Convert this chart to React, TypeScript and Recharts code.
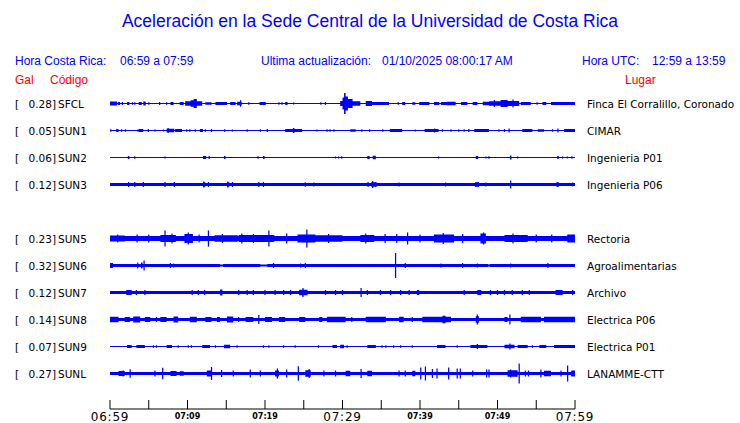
import { ComposedChart, Area, XAxis, YAxis } from 'recharts';

// stations, top to bottom (SUN4 row is empty)
const STATIONS = ['SFCL', 'SUN1', 'SUN2', 'SUN3', 'SUN5', 'SUN6', 'SUN7', 'SUN8', 'SUN9', 'SUNL'];
const PEAK_GAL = ['0.28', '0.05', '0.06', '0.12', '0.23', '0.32', '0.12', '0.14', '0.07', '0.27'];
const PLACES = [
  'Finca El Corralillo, Coronado',
  'CIMAR',
  'Ingenieria P01',
  'Ingenieria P06',
  'Rectoria',
  'Agroalimentarias',
  'Archivo',
  'Electrica P06',
  'Electrica P01',
  'LANAMME-CTT',
];

// quiet trace half-thickness per station
const BASE = [0.6, 0.6, 0.6, 1.5, 2.4, 1.5, 1.6, 1.6, 0.6, 1.6];

// [from minute, to minute, half amplitude]
const SFCL_BLOCKS = [
  [0, 0.9, 2], [1.0, 1.3, 1.5], [2.2, 2.5, 1.5], [3.7, 4.1, 1.5], [4.3, 4.6, 2], [7.8, 8.2, 1.5],
  [9.0, 9.5, 1.5], [9.7, 10.4, 2.3], [10.4, 10.8, 3.2], [10.8, 11.2, 4.5], [11.2, 11.9, 2.3],
  [12.3, 13.1, 1.2], [13.6, 15.1, 1.4], [15.5, 16.2, 1.4], [16.4, 17.0, 1.8], [19.3, 20.1, 1.4],
  [22.6, 22.9, 1.5], [29.7, 30.0, 2.5], [30.0, 30.2, 6], [30.2, 30.4, 10.5], [30.4, 30.7, 7],
  [30.7, 31.3, 4.5], [31.3, 32.3, 2.3], [33.0, 33.8, 2.5], [33.8, 36.0, 1.4], [37.7, 38.1, 1.4],
  [39.0, 39.4, 1.2], [39.9, 41.2, 1.4], [41.8, 42.5, 1.4], [42.7, 43.5, 1.4], [43.5, 44.6, 1.8],
  [45.3, 46.1, 1.4], [46.8, 47.4, 1.4], [48.1, 48.9, 1.8], [48.9, 50.4, 2.2], [50.4, 51.3, 3.6],
  [51.3, 52.8, 2.5], [53.0, 54.3, 1.4], [55.8, 56.3, 1.4], [56.9, 60, 1.6],
];
const SUN1_BLOCKS = [
  [0.8, 1.1, 1.5], [3.7, 4.3, 1.5], [7.3, 8.3, 1.8], [8.4, 9.3, 1.5], [11.6, 12.0, 1.5], [22.6, 24.8, 1.5],
  [23.6, 23.8, 2.5], [31.0, 31.7, 1.2], [36.1, 37.7, 1.5], [40.6, 42.4, 1.5], [47.0, 48.9, 1.5],
  [53.2, 54.5, 1.5], [55.2, 56.0, 1.2], [58.6, 60, 1.5],
];
const SUN2_BLOCKS = [
  [2.3, 2.5, 1.5], [12.0, 12.4, 1.5], [14.7, 14.9, 1.5], [19.75, 19.95, 1.5], [33.2, 33.5, 1.5],
  [33.9, 34.3, 1.8], [47.2, 47.5, 1.5], [51.6, 51.8, 2], [57.7, 57.9, 1.5],
];
const SUN3_BLOCKS = [[12.0, 12.3, 2.2], [15.1, 15.4, 2.2], [33.7, 34.4, 2.2], [47.1, 47.6, 2.2], [57.6, 57.9, 2.2]];
const SUN5_BLOCKS = [
  [0, 1.9, 2.9], [6.5, 8.5, 3.5], [9.6, 10.7, 4.5], [13.5, 16.5, 3.2], [16.6, 21.2, 3.4], [24.2, 26.5, 4],
  [26.5, 30, 3.2], [32.3, 34.1, 3.6], [41.8, 44.4, 4], [47.8, 48.5, 5], [50.9, 53.9, 3.6], [59, 60, 4],
];
const SUN6_BLOCKS = [[0, 0.4, 2.5], [3.5, 3.65, 3], [4.0, 4.2, 3], [14.2, 14.6, 1], [19.4, 20.3, 1], [48.8, 49.0, 1]];
const SUN7_BLOCKS = [[2.1, 2.8, 2.5], [14.2, 14.5, 3], [24.4, 25.5, 2.8], [39.6, 39.9, 2.5], [47.4, 47.9, 2.5], [57.5, 58.4, 2.4]];
const SUN8_BLOCKS = [
  [0, 1.1, 2.8], [1.9, 2.6, 2.4], [3.0, 3.9, 3], [4.5, 5.2, 2.4], [6.5, 7.3, 2.5], [8.2, 8.8, 3],
  [10.3, 11.2, 2.8], [12.3, 13.1, 2.4], [13.8, 14.2, 2.4], [15.1, 15.9, 3], [17.5, 18.5, 2.4],
  [20, 20.9, 2.4], [21.8, 22.6, 2.4], [24.4, 25.2, 2.4], [27, 27.4, 2.4], [28, 30.4, 2.7], [33, 35.6, 2.7],
  [37.3, 37.9, 2.8], [40.3, 44, 2.7], [42.9, 43.3, 3.8], [47.2, 47.6, 3.3], [50.9, 51.3, 2.4], [53, 55.6, 2.7],
  [56, 60, 2.7],
];
const SUN9_BLOCKS = [
  [2.2, 2.8, 1.5], [3.4, 4.5, 1.5], [7.3, 8.0, 1.5], [11.9, 12.9, 1.5], [14.7, 15.5, 1.7], [28.7, 29.3, 1.5],
  [29.7, 30.2, 1.7], [33.2, 34.3, 1.5], [42.2, 43.3, 1.5], [46.5, 48.7, 1.5], [50.9, 52.2, 1.7],
  [52.6, 53.9, 1.5], [55.4, 56.3, 1.5], [57.3, 60, 1.5],
];
const SUNL_BLOCKS = [
  [1.1, 1.9, 2.5], [7.8, 8.6, 2.5], [9.0, 9.5, 2.2], [12.5, 13.1, 3], [21.3, 21.8, 3], [25.2, 25.9, 3.3],
  [30.4, 31.0, 2.8], [33.2, 33.8, 2.8], [39.0, 39.4, 2.8], [51.3, 52.6, 3.2], [56.0, 56.9, 2.8], [59.5, 60, 3],
];

// [minute, half amplitude] for narrow spikes
const SFCL_SPIKES = [
  [1.6, 1.5], [2.9, 1.2], [3.2, 1.2], [5.0, 1.2], [6.4, 1.5], [7.3, 1.2], [16.85, 3.3], [17.9, 1.2],
  [21.8, 1.2], [22.2, 1.2], [23.7, 1], [27.2, 1.2], [27.8, 1.5], [37.2, 1.2], [49.6, 3.5], [52.0, 4],
  [55.1, 1.2],
];
const SUN1_SPIKES = [
  [0.1, 1.2], [1.5, 1.2], [2.0, 1.2], [3.6, 1], [4.95, 1.5], [5.8, 1], [6.9, 1], [7.5, 2.5], [9.9, 1.2],
  [10.3, 1.2], [11.0, 1.2], [12.3, 1.2], [13.1, 1.5], [14.8, 1.2], [15.8, 1], [17.7, 1.2], [19.4, 1.2],
  [20.3, 1.5], [26.7, 1], [28.0, 1.2], [28.4, 1.2], [28.9, 1.2], [32.5, 1.2], [33.5, 1.2], [35.2, 1.2],
  [39.4, 1], [41.9, 2], [42.9, 1.2], [44.0, 1.2], [45.0, 1.2], [45.7, 1.2], [46.3, 1.5], [50.2, 1.2],
  [50.9, 1.5], [51.5, 2], [57.1, 1.2], [57.8, 2],
];
const SUN2_SPIKES = [
  [3.2, 1.2], [7.1, 1], [12.8, 1.5], [19.1, 1.2], [29.1, 1], [29.5, 1], [29.9, 1.2], [42.4, 1], [48.5, 1],
  [48.9, 1.2], [52.6, 1], [58.4, 1], [59.0, 1], [59.6, 1.2],
];
const SUN3_SPIKES = [
  [2.4, 2.5], [3.2, 2.5], [4.3, 2.5], [7.1, 2.5], [8.3, 2.5], [12.1, 3], [12.7, 2.5], [15.2, 3], [15.8, 2.5],
  [19.2, 2.5], [19.8, 2.5], [25.2, 2.2], [26.3, 2], [33.3, 2.5], [33.9, 3.5], [34.3, 2.5], [37.3, 2],
  [43.3, 2], [47.2, 2.5], [47.5, 2.5], [48.5, 2], [51.7, 4], [57.8, 2.5], [59.7, 2],
];
const SUN5_SPIKES = [
  [1.0, 4], [3.5, 4], [5.0, 4], [7.1, 8], [8.0, 5], [10.1, 6], [11.5, 4], [12.7, 8], [14.5, 4.5], [17.0, 5],
  [18.5, 4.5], [20.5, 8], [22.8, 5], [25.4, 9], [28.2, 4.5], [33.0, 5], [35.5, 4.5], [37.0, 4.5], [38.4, 6],
  [40.0, 4], [43.0, 5.5], [45.5, 4.5], [48.2, 6], [52.0, 5], [55.0, 4], [57.0, 4],
];
const SUN6_SPIKES = [
  [4.4, 5], [7.8, 2.5], [8.2, 2], [21.1, 2.5], [24.6, 2], [25.2, 2.5], [36.85, 12.5], [38.1, 2.5],
  [42.7, 2], [45.5, 2.5], [47.4, 2], [51.7, 2], [56.5, 2.5],
];
const SUN7_SPIKES = [
  [3.4, 2.5], [4.5, 2.5], [10.6, 2.5], [11.4, 2.5], [12.2, 2.5], [16.6, 2.5], [17.7, 2.5], [18.5, 2.5],
  [20, 2.5], [21.3, 2.5], [22.4, 2.5], [23.3, 2.5], [24.9, 4.5], [27.8, 2.5], [29.1, 2.5], [30, 2.5],
  [32.4, 4.5], [33.2, 2.5], [34.9, 2.5], [36.2, 2.5], [37.5, 2.5], [38.6, 2.5], [45.7, 2.5], [49.1, 2.5],
  [50, 2.5], [50.9, 2.5], [51.9, 2.5], [53.2, 2.5], [54.1, 2.5], [59.7, 2.5],
];
const SUN8_SPIKES = [[6.0, 2.5], [16.6, 2.5], [19.2, 4.5], [31.2, 2.5], [39.0, 2.5], [47.4, 5], [51.6, 5]];
const SUN9_SPIKES = [
  [5.6, 1.2], [6.0, 1.2], [8.8, 1.2], [10.1, 1.2], [10.5, 1.2], [13.6, 1.2], [16.4, 1.2], [19.8, 1.2],
  [20.5, 1.2], [22.4, 1.2], [23.9, 1.2], [26.9, 1.2], [30.6, 1.2], [35.1, 1.2], [35.6, 1.2], [36.6, 1.2],
  [37.5, 1.2], [39, 1.2], [44.8, 1.2], [47.4, 2.5], [51.6, 3], [54.5, 1.2],
];
const SUNL_SPIKES = [
  [1.7, 3], [2.6, 4.3], [5.8, 3], [6.8, 5.7], [13.1, 6.5], [14.4, 3.5], [15.9, 3], [18.1, 4], [19.4, 3],
  [21.6, 5], [22.8, 4], [24.3, 7.3], [25.7, 4.5], [27.6, 3], [29.1, 3], [32.4, 4.5], [37.3, 3], [38.1, 3],
  [40.1, 6], [40.7, 7], [41.6, 4.5], [42.2, 5], [43.7, 6], [44.8, 5], [45.2, 5], [46.8, 3], [48.6, 4],
  [48.9, 4], [51.7, 4], [52.8, 10], [53.6, 3], [54.0, 3], [55.6, 4], [58.2, 3], [59.05, 8],
];

const BLOCKS = [SFCL_BLOCKS, SUN1_BLOCKS, SUN2_BLOCKS, SUN3_BLOCKS, SUN5_BLOCKS, SUN6_BLOCKS, SUN7_BLOCKS, SUN8_BLOCKS, SUN9_BLOCKS, SUNL_BLOCKS];
const SPIKES = [SFCL_SPIKES, SUN1_SPIKES, SUN2_SPIKES, SUN3_SPIKES, SUN5_SPIKES, SUN6_SPIKES, SUN7_SPIKES, SUN8_SPIKES, SUN9_SPIKES, SUNL_SPIKES];

const TICK_MINUTES = [0, 5, 10, 15, 20, 25, 30, 35, 40, 45, 50, 55, 60];
const TICK_LABELS = ['06:59', '', '07:09', '', '07:19', '', '07:29', '', '07:39', '', '07:49', '', '07:59'];
const BIG_LABELS = ['06:59', '07:29', '07:59'];

const W = 740;
const H = 423;
const PLOT_TOP = 90;
const PLOT_BOTTOM = 409;
const FIRST_ROW = 103.5;
const ROW_GAP = 27;
const SPIKE_HALF = 0.08;
const BLUE = '#0000ff';

const slotOf = (i: number) => (i >= 4 ? i + 1 : i);
const rowY = (i: number) => FIRST_ROW + ROW_GAP * slotOf(i);

function traceData(i: number) {
  const center = PLOT_BOTTOM - rowY(i);
  const feats = [
    ...BLOCKS[i],
    ...SPIKES[i].map(([t, a]) => [t - SPIKE_HALF, t + SPIKE_HALF, a]),
  ].map(([s, e, a]) => [Math.max(0, s), Math.min(60, e), a]);
  const xs = Array.from(new Set([0, 60, ...feats.flatMap((f) => [f[0], f[1]])])).sort((a, b) => a - b);
  const pts: { t: number; v: number[] }[] = [];
  for (let k = 0; k < xs.length - 1; k++) {
    const mid = (xs[k] + xs[k + 1]) / 2;
    const cover = feats.filter((f) => f[0] <= mid && f[1] >= mid);
    const a = cover.length ? Math.max(...cover.map((f) => f[2])) : BASE[i];
    pts.push({ t: xs[k], v: [center - a, center + a] }, { t: xs[k + 1], v: [center - a, center + a] });
  }
  return pts;
}

const TimeTick = (props: any) => {
  const { x, y, payload } = props;
  const label = TICK_LABELS[TICK_MINUTES.indexOf(payload.value)];
  const big = BIG_LABELS.includes(label);
  return (
    <g>
      <line x1={x} y1={y - 9} x2={x} y2={y} stroke="#000" strokeWidth={1} />
      {label && (
        <text
          x={x}
          y={big ? y + 12 : y + 10}
          textAnchor="middle"
          fontFamily="DejaVu Sans"
          fontSize={big ? 12 : 8}
          fontWeight={big ? 'normal' : 'bold'}
          letterSpacing={big ? 0.8 : 0}
          fill="#000"
        >
          {label}
        </text>
      )}
    </g>
  );
};

function Txt({ x, y, color, size, family, children, align }: any) {
  const lh = 16;
  const style: any = {
    position: 'absolute',
    top: y - lh / 2,
    lineHeight: `${lh}px`,
    fontSize: size,
    fontFamily: family,
    color,
    whiteSpace: 'pre',
  };
  if (align === 'right') style.right = W - x;
  else style.left = x;
  return <div style={style}>{children}</div>;
}

export default function App() {
  const sans = '"Liberation Sans", Arial, sans-serif';
  const dv = '"DejaVu Sans", sans-serif';
  return (
    <div style={{ position: 'absolute', left: 0, top: 0, width: W, height: H, background: '#fff', overflow: 'hidden' }}>
      <ComposedChart width={W} height={H} margin={{ top: PLOT_TOP, right: W - 575, bottom: 0, left: 110 }}>
        <XAxis
          type="number"
          dataKey="t"
          domain={[0, 60]}
          ticks={TICK_MINUTES}
          interval={0}
          height={H - PLOT_BOTTOM}
          tickSize={0}
          tickMargin={0}
          tickLine={false}
          axisLine={{ stroke: '#000', strokeWidth: 1 }}
          tick={<TimeTick />}
          allowDataOverflow
        />
        <YAxis hide type="number" domain={[0, PLOT_BOTTOM - PLOT_TOP]} allowDataOverflow />
        {STATIONS.map((s, i) => (
          <Area
            key={s}
            data={traceData(i)}
            dataKey="v"
            type="linear"
            stroke="none"
            fill={BLUE}
            fillOpacity={1}
            dot={false}
            activeDot={false}
            isAnimationActive={false}
          />
        ))}
      </ComposedChart>

      <div
        style={{
          position: 'absolute',
          left: 0,
          top: 12,
          width: W,
          textAlign: 'center',
          lineHeight: '18px',
          fontSize: 17.5,
          fontFamily: sans,
          color: BLUE,
        }}
      >
        Aceleración en la Sede Central de la Universidad de Costa Rica
      </div>

      <Txt x={15} y={61} color={BLUE} size={12} family={sans}>Hora Costa Rica:</Txt>
      <Txt x={120} y={61} color={BLUE} size={12} family={sans}>06:59 a 07:59</Txt>
      <Txt x={261} y={61} color={BLUE} size={12} family={sans}>Ultima actualización:</Txt>
      <Txt x={382} y={61} color={BLUE} size={12} family={sans}>01/10/2025 08:00:17 AM</Txt>
      <Txt x={582} y={61} color={BLUE} size={12} family={sans}>Hora UTC:</Txt>
      <Txt x={652} y={61} color={BLUE} size={12} family={sans}>12:59 a 13:59</Txt>

      <Txt x={15} y={80} color="#ff0000" size={12} family={sans}>Gal</Txt>
      <Txt x={50} y={80} color="#ff0000" size={12} family={sans}>Código</Txt>
      <Txt x={625} y={80} color="#ff0000" size={12} family={sans}>Lugar</Txt>

      {STATIONS.map((s, i) => (
        <div key={s}>
          <Txt x={15} y={rowY(i)} color="#000" size={10.5} family={dv}>[</Txt>
          <Txt x={56} y={rowY(i)} color="#000" size={10.5} family={dv} align="right">{PEAK_GAL[i]}]</Txt>
          <Txt x={58} y={rowY(i)} color="#000" size={10.5} family={dv}>{s}</Txt>
          <Txt x={587} y={rowY(i)} color="#000" size={10.5} family={dv}>{PLACES[i]}</Txt>
        </div>
      ))}
    </div>
  );
}
